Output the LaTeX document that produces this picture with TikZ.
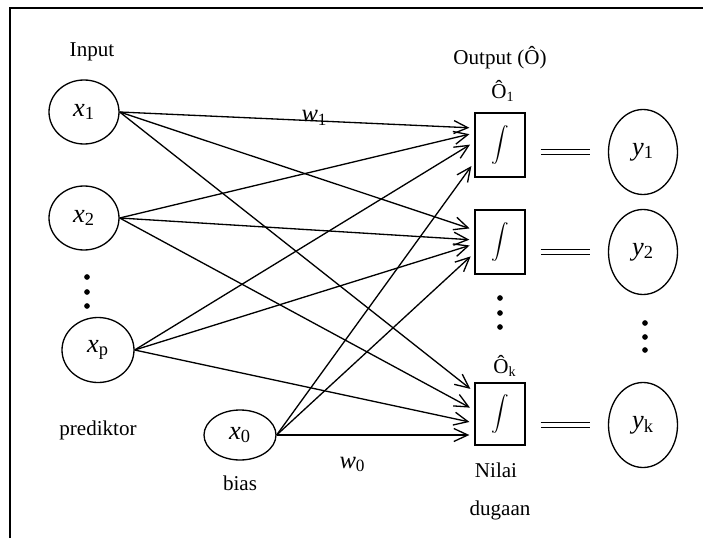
\documentclass[tikz,border=0pt]{standalone}
\usepackage{fontspec}
\setmainfont{Liberation Serif}
\usetikzlibrary{shapes.geometric,arrows.meta}
\tikzset{
    EL1/.style ={ellipse, minimum width = 1.40cm, minimum height = 1.28cm, inner sep=0pt, draw=black, font=\fontsize{15}{17}\selectfont},
    EL2/.style ={ellipse, minimum width = 1.38cm, minimum height = 1.70cm, inner sep=0pt, draw=black, font=\fontsize{15}{17}\selectfont},
    RA1/.style ={rectangle, minimum width = 1cm, minimum height = 1.28cm, inner sep=0pt, draw=black},
    AR1/.style ={-{Straight Barb[length=2.8mm,width=2.6mm]}, shorten >=1mm},
    EQ1/.style ={double, double distance=0.9mm, line width=0.6pt},
    LB1/.style ={font=\fontsize{12}{14}\selectfont},
    LB2/.style ={font=\fontsize{14}{16}\selectfont}
}

\begin{document}
\begin{tikzpicture}[line width=0.75pt]
        \useasboundingbox (0,0) rectangle (14.06,10.76);
        \draw[line width=1.2pt] (0.20,0) -- (0.20,10.60) -- (14.06,10.60);
        % input side
        \node[LB1] (inp) at (1.84,9.72) {Input};
        \node[EL1] (x1) at (1.68,8.52) {\textit{x}\textsubscript{1}};
        \node[EL1] (x2) at (1.68,6.40) {\textit{x}\textsubscript{2}};
        \node[EL1, minimum width=1.44cm, minimum height=1.30cm] (xp) at (1.96,3.76) {\textit{x}\textsubscript{p}};
        \node[EL1, minimum width=1.44cm, minimum height=1.00cm] (x0) at (4.80,2.06) {\textit{x}\textsubscript{0}};
        \node[LB1] (pred) at (1.96,2.16) {prediktor};
        \node[LB1] (bias) at (4.80,1.10) {bias};
        \filldraw (1.74,5.22) circle[radius=1.2pt];
        \filldraw (1.74,4.92) circle[radius=1.2pt];
        \filldraw (1.74,4.64) circle[radius=1.2pt];
        % output side
        \node[LB1] (out) at (10.00,9.60) {Output (Ô)};
        \node[RA1] (O1) at (10.00,7.86) {$\displaystyle\int$};
        \node[RA1] (O2) at (10.00,5.92) {$\displaystyle\int$};
        \node[RA1, minimum height=1.24cm] (Ok) at (10.00,2.48) {$\displaystyle\int$};
        \node[LB1] (lO1) at (10.06,8.94) {Ô\textsubscript{1}};
        \node[LB1] (lOk) at (10.10,3.44) {Ô\textsubscript{k}};
        \node[LB1] (nil) at (9.92,1.36) {Nilai};
        \node[LB1] (dug) at (10.00,0.56) {dugaan};
        \filldraw (10.00,4.80) circle[radius=1.2pt];
        \filldraw (10.00,4.50) circle[radius=1.2pt];
        \filldraw (10.00,4.22) circle[radius=1.2pt];
        \node[EL2] (y1) at (12.86,7.72) {\textit{y}\textsubscript{1}};
        \node[EL2] (y2) at (12.86,5.72) {\textit{y}\textsubscript{2}};
        \node[EL2] (yk) at (12.86,2.26) {\textit{y}\textsubscript{k}};
        \filldraw (12.90,4.30) circle[radius=1.2pt];
        \filldraw (12.90,4.02) circle[radius=1.2pt];
        \filldraw (12.90,3.76) circle[radius=1.2pt];
        % weights
        \draw[AR1] (x1.east) -- ([yshift=3.4mm]O1.west);
        \draw[AR1] (x1.east) -- ([yshift=2.4mm]O2.west);
        \draw[AR1] (x1.east) -- ([yshift=4.4mm]Ok.west);
        \draw[AR1] (x2.east) -- ([yshift=2.4mm]O1.west);
        \draw[AR1] (x2.east) -- ([yshift=0.4mm]O2.west);
        \draw[AR1] (x2.east) -- ([yshift=0.8mm]Ok.west);
        \draw[AR1] (xp.east) -- ([yshift=0.6mm]O1.west);
        \draw[AR1] (xp.east) -- ([yshift=-0.4mm]O2.west);
        \draw[AR1] (xp.east) -- ([yshift=-1.8mm]Ok.west);
        \draw[AR1] (x0.east) -- ([yshift=-3.4mm]O1.west);
        \draw[AR1] (x0.east) -- ([yshift=-2.2mm]O2.west);
        \draw[AR1] (x0.east) -- (x0.east -| Ok.west);
        \node[LB2, anchor=base west] (w1) at (5.90,8.33) {\textit{w}\textsubscript{1}};
        \node[LB2, anchor=base west] (w0) at (6.66,1.40) {\textit{w}\textsubscript{0}};
        % estimates
        \draw[EQ1, shorten <=3mm, shorten >=3.6mm] (O1.east |- y1) -- (y1.west);
        \draw[EQ1, shorten <=3mm, shorten >=3.6mm] (O2.east |- y2) -- (y2.west);
        \draw[EQ1, shorten <=3mm, shorten >=3.6mm] (Ok.east |- yk) -- (yk.west);
\end{tikzpicture}
\end{document}
